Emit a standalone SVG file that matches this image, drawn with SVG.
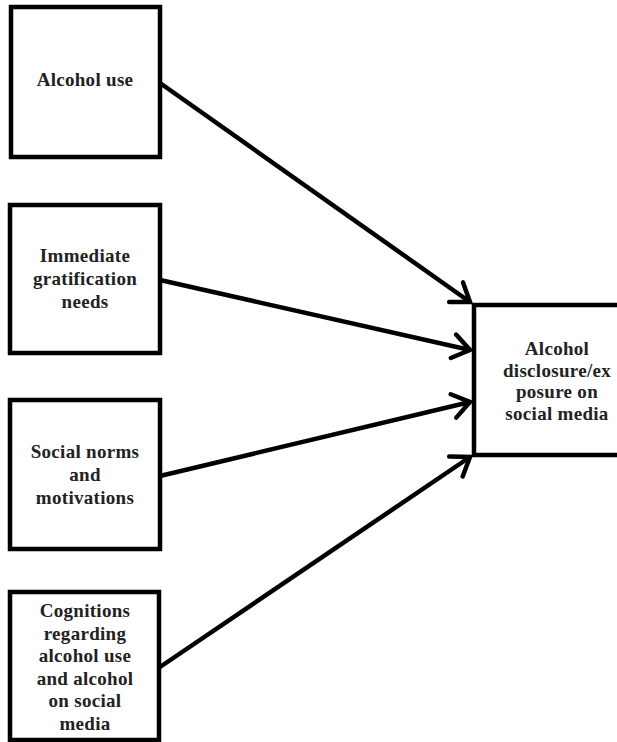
<svg xmlns="http://www.w3.org/2000/svg" width="617" height="742" viewBox="0 0 617 742">
<defs>
<style>
.box{fill:#fff;stroke:#000;stroke-width:4.5}
.lbl{font-family:"Liberation Serif","Times New Roman",serif;font-weight:bold;font-size:19px;letter-spacing:0.3px;fill:#222;text-anchor:middle}
.con{stroke:#000;stroke-width:4.5;fill:none;marker-end:url(#arr)}
</style>
<marker id="arr" markerUnits="userSpaceOnUse" markerWidth="30" markerHeight="30" viewBox="-20 -15 25 30" refX="0" refY="0" orient="auto">
<path d="M-17,-12 L0,0 L-17,12" fill="none" stroke="#000" stroke-width="4.5" stroke-linecap="round" stroke-linejoin="miter"/>
</marker>
</defs>
<rect width="617" height="742" fill="#fff"/>
<g id="connectors">
<line class="con" x1="160" y1="83" x2="470" y2="302"/>
<line class="con" x1="160" y1="280" x2="470" y2="350"/>
<line class="con" x1="160" y1="476" x2="470" y2="402"/>
<line class="con" x1="160" y1="667" x2="470" y2="457"/>
</g>
<g id="n1">
<rect class="box" x="11" y="7" width="149" height="150"/>
<text class="lbl" x="85" y="86">Alcohol use</text>
</g>
<g id="n2">
<rect class="box" x="10" y="205" width="150" height="148"/>
<text class="lbl" x="85" y="262">Immediate</text>
<text class="lbl" x="85" y="285">gratification</text>
<text class="lbl" x="85" y="308">needs</text>
</g>
<g id="n3">
<rect class="box" x="10" y="400" width="150" height="149"/>
<text class="lbl" x="85" y="458">Social norms</text>
<text class="lbl" x="85" y="481">and</text>
<text class="lbl" x="85" y="504">motivations</text>
</g>
<g id="n4">
<rect class="box" x="10" y="592" width="149" height="148"/>
<text class="lbl" x="85" y="617">Cognitions</text>
<text class="lbl" x="85" y="640">regarding</text>
<text class="lbl" x="85" y="662">alcohol use</text>
<text class="lbl" x="85" y="685">and alcohol</text>
<text class="lbl" x="85" y="707">on social</text>
<text class="lbl" x="85" y="730">media</text>
</g>
<g id="n5">
<rect class="box" x="474" y="305" width="150" height="150"/>
<text class="lbl" x="557" y="355">Alcohol</text>
<text class="lbl" x="557" y="377">disclosure/ex</text>
<text class="lbl" x="557" y="398">posure on</text>
<text class="lbl" x="557" y="420">social media</text>
</g>
</svg>
